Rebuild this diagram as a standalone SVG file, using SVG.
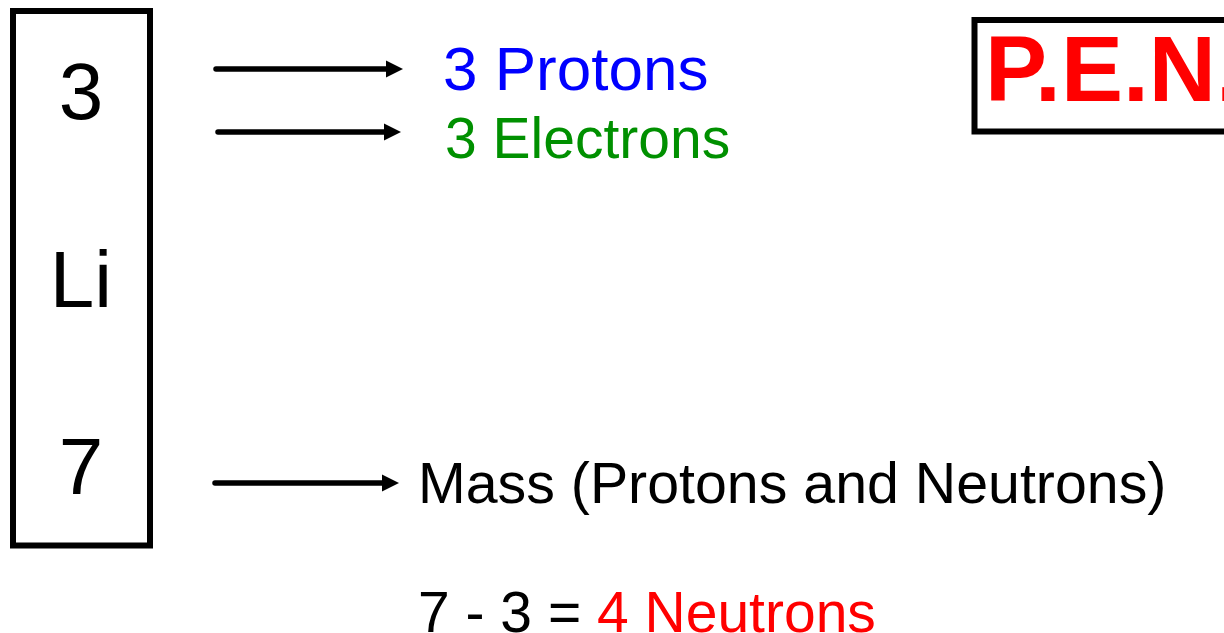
<svg xmlns="http://www.w3.org/2000/svg" width="1224" height="633" viewBox="0 0 1224 633">
<defs>
<marker id="ah" markerWidth="17" markerHeight="18" refX="3" refY="9" orient="auto" markerUnits="userSpaceOnUse">
<path d="M0,0.5 L17,9 L0,17.5 Z" fill="#000"/>
</marker>
<style>
text{font-family:"Liberation Sans",Arial,sans-serif}
.box{fill:#fff;stroke:#000;stroke-width:6}
.arr{stroke:#000;stroke-width:5.5;stroke-linecap:round;fill:none;marker-end:url(#ah)}
.big{font-size:80px;fill:#000;text-anchor:middle}
.lbl{font-size:57px}
</style>
</defs>
<rect width="1224" height="633" fill="#fff"/>
<g id="element">
<rect class="box" x="13" y="11" width="137" height="534.5"/>
<text class="big" x="81" y="119">3</text>
<text class="big" x="81" y="307">Li</text>
<text class="big" x="81" y="494">7</text>
</g>
<g id="connectors">
<line class="arr" x1="216" y1="69" x2="389" y2="69"/>
<line class="arr" x1="218" y1="132" x2="387" y2="132"/>
<line class="arr" x1="215" y1="483" x2="385" y2="483"/>
</g>
<g id="protons"><text class="lbl" x="443" y="90" style="font-size:62px" fill="#0000FF">3 Protons</text></g>
<g id="electrons"><text class="lbl" x="445" y="158" fill="#009000">3 Electrons</text></g>
<g id="mass"><text class="lbl" x="418" y="503" style="font-size:57.3px" fill="#000">Mass (Protons and Neutrons)</text></g>
<g id="neutrons"><text class="lbl" x="418" y="632" fill="#000">7 - 3 = <tspan fill="#FF0000">4 Neutrons</tspan></text></g>
<g id="pen">
<rect class="box" x="974.5" y="20" width="300" height="111.5"/>
<text x="985" y="101" style="font-size:93px;font-weight:bold" fill="#FF0000">P.E.N.</text>
</g>
</svg>
